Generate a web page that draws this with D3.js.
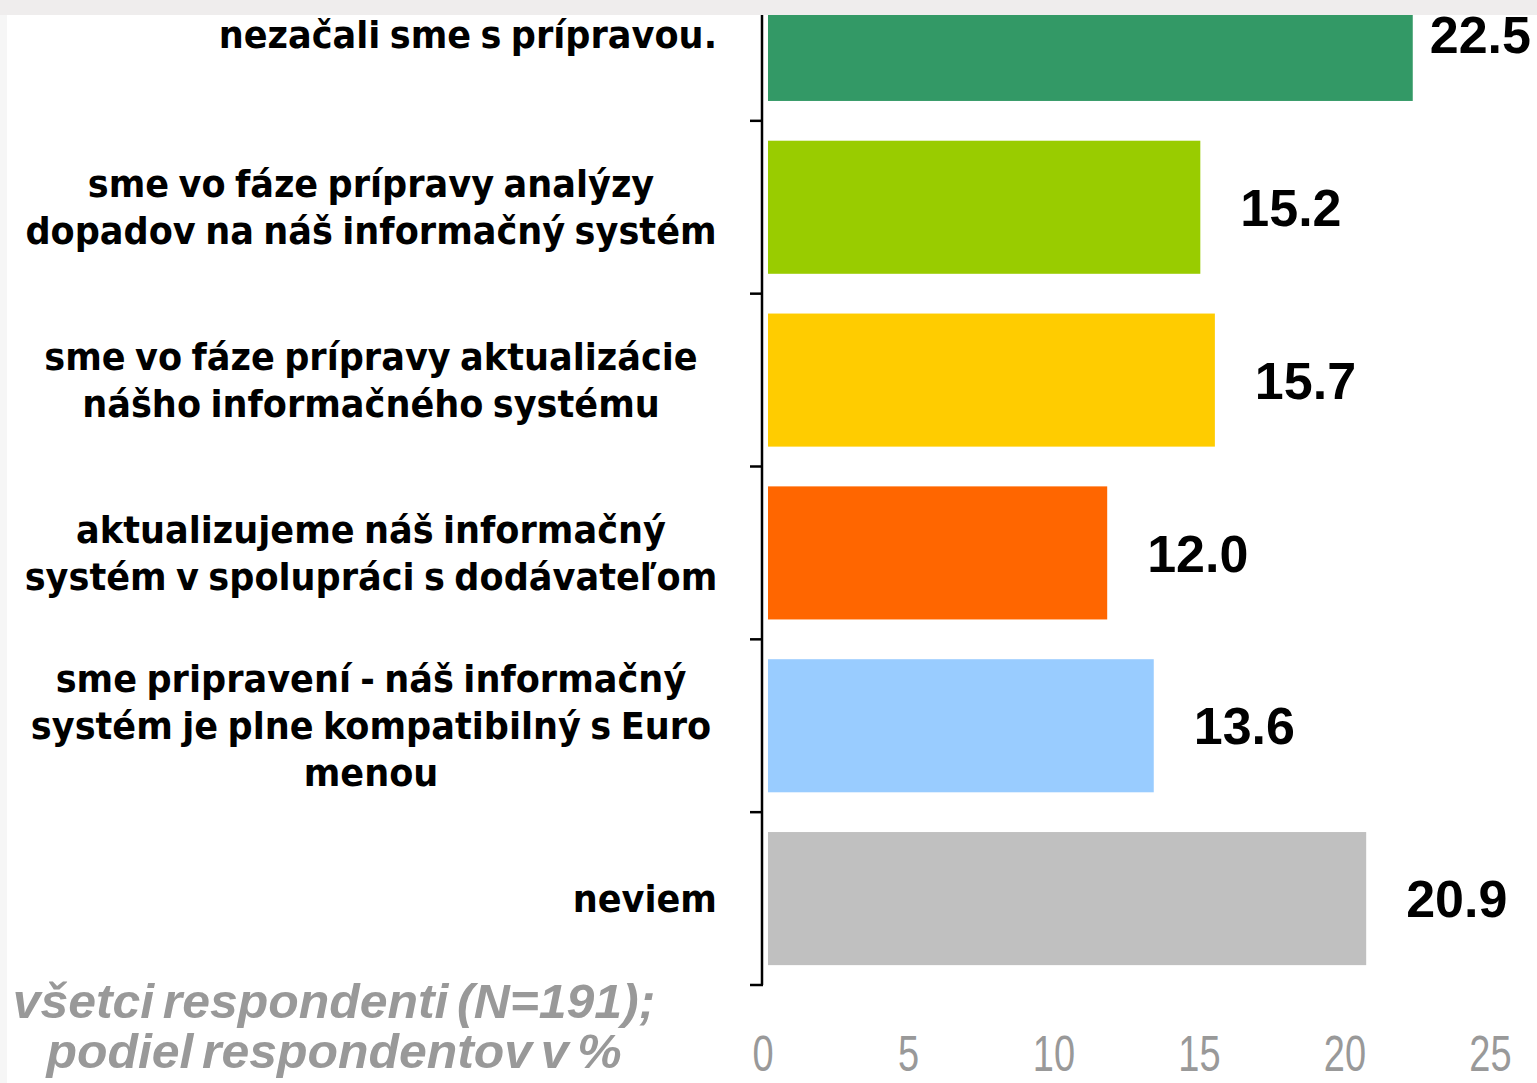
<!DOCTYPE html>
<html>
<head>
<meta charset="utf-8">
<style>
body { margin: 0; background: #fff; }
svg { display: block; }
.cat { font-family: "DejaVu Sans", sans-serif; font-weight: bold; fill: #000; }
.val { font-family: "Liberation Sans", Arial, sans-serif; font-weight: bold; fill: #000; }
.tick { font-family: "Liberation Sans", Arial, sans-serif; fill: #999; }
.note { font-family: "Liberation Sans", Arial, sans-serif; font-style: italic; font-weight: bold; fill: #999; }
</style>
</head>
<body>
<div id="chart"></div>
<script src="https://cdn.jsdelivr.net/npm/d3@7"></script>
<script>
// categories, top to bottom (line breaks as in the original)
var categories = [
  ["nezačali sme s prípravou."],
  ["sme vo fáze prípravy analýzy", "dopadov na náš informačný systém"],
  ["sme vo fáze prípravy aktualizácie", "nášho informačného systému"],
  ["aktualizujeme náš informačný", "systém v spolupráci s dodávateľom"],
  ["sme pripravení - náš informačný", "systém je plne kompatibilný s Euro", "menou"],
  ["neviem"]
];
var values = [22.5, 15.2, 15.7, 12.0, 13.6, 20.9];
var colors = ["#339966", "#99cc00", "#ffcc00", "#ff6600", "#99ccff", "#c0c0c0"];
var xTicks = [0, 5, 10, 15, 20, 25];
var noteLines = ["všetci respondenti (N=191);", "podiel respondentov v %"];

(function() {
  "use strict";

  var W = 1537, H = 1083,
    labelRight = 717,
    labelCenter = 371,
    catSize = 37,
    catSqueeze = 0.95,
    lineH = 47;

  var svg = d3.select("#chart").append("svg")
    .attr("width", W)
    .attr("height", H);

  var x = d3.scaleLinear().domain([0, 25]).range([758, 1485.5]);
  var y = d3.scaleBand()
    .domain(d3.range(categories.length))
    .range([-52, 985])
    .paddingInner(0.23)
    .paddingOuter(0.115);

  var axisX = x(0) + 4,
    barLeft = x(0) + 10,
    step = y.step(),
    top0 = y.range()[0];

  // bars
  svg.selectAll("rect.bar")
    .data(values)
    .enter().append("rect")
      .attr("class", "bar")
      .attr("x", barLeft)
      .attr("y", function(d, i) { return y(i); })
      .attr("width", function(d) { return x(d) - barLeft; })
      .attr("height", y.bandwidth())
      .style("fill", function(d, i) { return colors[i]; });

  // value labels
  svg.selectAll("text.val")
    .data(values)
    .enter().append("text")
      .attr("class", "val")
      .attr("font-size", 52)
      .attr("x", function(d) { return x(d) + 40; })
      .attr("y", function(d, i) { return y(i) + y.bandwidth() / 2; })
      .attr("dy", "0.36em")
      .text(function(d) { return d.toFixed(1); })
      .each(function() {
        var w = this.getComputedTextLength(),
          sx = +d3.select(this).attr("x");
        if (sx + w > W - 6) d3.select(this).attr("x", W - 6 - w);
      });

  // axis line and ticks at band boundaries
  svg.append("line")
    .attr("x1", axisX).attr("x2", axisX)
    .attr("y1", 0).attr("y2", top0 + step * categories.length)
    .style("stroke", "#000").style("stroke-width", 2.5);

  svg.selectAll("line.tk")
    .data(d3.range(1, categories.length + 1))
    .enter().append("line")
      .attr("class", "tk")
      .attr("x1", axisX - 12).attr("x2", axisX + 1)
      .attr("y1", function(i) { return top0 + step * i; })
      .attr("y2", function(i) { return top0 + step * i; })
      .style("stroke", "#000").style("stroke-width", 2.5);

  // category labels
  var cat = svg.selectAll("g.cat")
    .data(categories)
    .enter().append("g")
      .attr("class", "cat")
      .attr("transform", function(d, i) {
        var cx = d.length > 1 ? labelCenter : labelRight;
        return "translate(" + cx + "," + (y(i) + y.bandwidth() / 2) + ") scale(" + catSqueeze + ",1)";
      });

  cat.each(function(lines) {
    var g = d3.select(this);
    var off = (lines.length - 1) * lineH / 2;
    g.selectAll("text")
      .data(lines)
      .enter().append("text")
        .attr("font-size", catSize)
        .attr("word-spacing", -3)
        .attr("text-anchor", lines.length > 1 ? "middle" : "end")
        .attr("y", function(d, j) { return j * lineH - off; })
        .attr("dy", "0.36em")
        .text(function(d) { return d; });
  });

  // x tick labels
  svg.selectAll("text.tick")
    .data(xTicks)
    .enter().append("text")
      .attr("class", "tick")
      .attr("font-size", 50)
      .attr("text-anchor", "middle")
      .attr("transform", function(d) { return "translate(" + (x(d) + 5) + ",1071) scale(0.76,1)"; })
      .text(function(d) { return d; });

  // footnote
  svg.selectAll("text.note")
    .data(noteLines)
    .enter().append("text")
      .attr("class", "note")
      .attr("font-size", 48)
      .attr("text-anchor", "middle")
      .attr("word-spacing", -5)
      .attr("transform", function(d, i) { return "translate(334," + (1018 + i * 50) + ") scale(1.04,1)"; })
      .text(function(d) { return d; });

  // cropped background strip at the top of the original slide
  svg.append("rect")
    .attr("x", 0).attr("y", 0)
    .attr("width", W).attr("height", 15)
    .style("fill", "#efeded");
  svg.append("rect")
    .attr("x", 0).attr("y", 15)
    .attr("width", 7).attr("height", H - 15)
    .style("fill", "#f6f6f6");
})();
</script>
</body>
</html>
